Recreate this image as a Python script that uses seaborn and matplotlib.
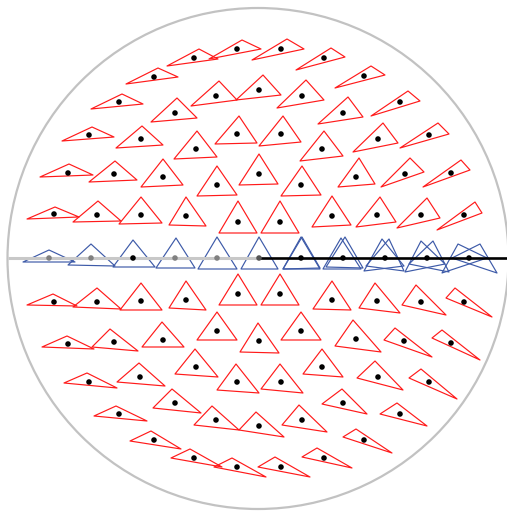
import matplotlib
matplotlib.use("Agg")
import matplotlib.pyplot as plt
from matplotlib.collections import PolyCollection
from matplotlib.patches import Circle
import seaborn as sns
import pandas as pd

sns.set_style("white")

# ---- data (image pixel coordinates, y downwards) ----
red_dots = [(194,58),(237,49),(281,49),(324,58),(154,77),(364,76),(119,102),(216,96),(259,90),(302,96),(400,102),(175,113),(343,113),
            (89,135),(141,139),(237,134),(281,134),(378,139),(429,135),(196,149),(322,149),
            (68,173),(114,174),(163,177),(259,174),(217,185),(301,185),(356,177),(405,174),(451,173),
            (54,214),(97,215),(141,215),(186,216),(238,222),(280,222),(332,216),(377,215),(421,215),(464,215),
            (54,302),(97,302),(141,301),(186,300),(238,294),(280,294),(332,300),(377,301),(421,302),(464,302),
            (68,344),(114,342),(163,340),(217,331),(259,341),(301,331),(356,339),(404,341),(451,343),
            (89,382),(140,377),(196,367),(237,382),(281,382),(322,367),(378,377),(429,382),
            (119,414),(175,403),(216,420),(259,426),(302,420),(343,403),(400,414),
            (154,440),(364,440),
            (194,458),(237,467),(281,467),(324,458)]

red_left = [(167,66),(209,59),(252,60),(296,70),(126,84),(335,88),(91,109),(191,106),(236,100),(277,108),(371,116),(151,122),(318,124),
            (62,141),(116,148),(215,144),(259,146),(353,152),(400,148),(174,159),(300,161),
            (40,177),(89,182),(141,187),(239,185),(197,196),(281,196),(338,187),(381,187),(423,187),
            (27,219),(73,222),(119,224),(169,225),(219,233),(261,233),(312,227),(356,227),(397,228),(437,230),
            (27,305),(73,307),(120,310),(169,308),(219,305),(261,305),(313,309),(359,308),(402,305),(446,298),
            (42,347),(92,347),(142,347),(197,340),(240,352),(281,340),(335,346),(384,340),(432,338),
            (64,383),(117,382),(175,374),(217,390),(261,389),(303,374),(357,378),(409,378),
            (94,416),(153,408),(194,425),(239,430),(282,425),(322,404),(380,414),
            (130,441),(343,437),
            (171,458),(214,467),(258,467),(302,457)]

red_apex = [(199,49),(242,40),(287,39),(331,48),(158,68),(371,66),(122,94),(219,81),(263,75),(306,80),(408,91),(177,98),(348,97),
            (92,127),(142,126),(239,116),(283,116),(383,123),(438,123),(197,131),(324,131),
            (69,164),(115,161),(163,159),(259,154),(217,166),(302,166),(359,158),(410,158),(461,160),
            (55,207),(98,201),(141,197),(186,197),(238,201),(280,201),(332,196),(380,197),(427,198),(475,202),
            (53,294),(97,288),(141,283),(186,281),(238,274),(280,274),(332,281),(375,283),(416,285),(455,288),
            (67,336),(110,329),(162,322),(217,312),(258,323),(301,312),(353,320),(395,328),(442,330),
            (87,373),(139,363),(195,349),(236,364),(280,364),(322,349),(375,361),(421,369),
            (116,406),(172,389),(212,406),(256,412),(299,405),(342,389),(397,403),
            (151,431),(356,429),
            (190,449),(232,458),(275,457),(317,448)]

red_right = [(218,59),(261,49),(304,49),(345,57),(178,77),(385,75),(143,104),(237,100),(281,95),(324,100),(420,101),(197,118),(363,117),
             (114,137),(163,145),(257,143),(301,142),(398,143),(449,134),(217,157),(343,156),
             (93,175),(137,180),(183,185),(278,184),(237,195),(321,195),(375,184),(424,172),(470,170),
             (79,217),(121,221),(162,223),(206,226),(257,233),(299,233),(351,225),(396,222),(440,218),(482,213),
             (77,306),(121,309),(162,310),(206,310),(257,305),(299,305),(351,310),(400,313),(446,315),(492,317),
             (94,349),(138,351),(184,347),(237,340),(279,353),(321,340),(381,352),(432,357),(480,360),
             (117,388),(165,386),(218,377),(259,393),(303,393),(343,377),(403,390),(457,399),
             (147,421),(201,413),(239,430),(284,437),(327,432),(367,414),(427,426),
             (181,449),(392,453),
             (222,467),(266,477),(310,477),(352,468)]

axis_dots = [(49,258),(91,258),(133,258),(175,258),(217,258),(259,258),(301,258),(343,258),(385,258),(427,258),(469,258)]
axis_dot_shade = ["gray","gray","black","gray","gray","dark","black","black","black","black","black"]

blue_left = [(23,262),(68,265),(113,267),(156,268),(198,269),(241,269),(283,269),(323,269),(364,271),(405,272),(442,273),
             (283,269),(326,267),(366,266),(409,264),(452,258)]
blue_apex = [(49,250),(91,244),(133,240),(176,238),(217,237),(259,237),(301,237),(341,238),(382,239),(421,241),(458,244),
             (302,237),(345,237),(389,239),(433,241),(480,244)]
blue_right = [(75,262),(115,266),(155,267),(195,268),(237,269),(278,269),(320,269),(361,269),(404,266),(445,264),(487,258),
              (320,268),(363,268),(404,271),(449,272),(497,273)]

disk_center = (258, 258.5)
disk_radius = 250.5
cut_left = [(8, 258), (259, 258)]
cut_right = [(259, 258), (507, 258)]

# ---- figure ----
fig = plt.figure(figsize=(5.07, 5.12), dpi=100)
ax = fig.add_axes([0, 0, 1, 1])

ax.add_patch(Circle(disk_center, disk_radius, fill=False, edgecolor="#c2c2c2", lw=1.6, zorder=1))

red_polys = [[l, a, r] for l, a, r in zip(red_left, red_apex, red_right)]
ax.add_collection(PolyCollection(red_polys, facecolors="none", edgecolors="#ff1a1a", linewidths=0.85, zorder=2))

blue_polys = [[l, a, r] for l, a, r in zip(blue_left, blue_apex, blue_right)]
ax.add_collection(PolyCollection(blue_polys, facecolors="none", edgecolors="#3d5aa8", linewidths=0.85, zorder=2))

ax.plot([p[0] for p in cut_left], [p[1] for p in cut_left], color="#c8c8c8", lw=2.2, zorder=3, solid_capstyle="butt")
ax.plot([p[0] for p in cut_right], [p[1] for p in cut_right], color="black", lw=1.9, zorder=3, solid_capstyle="butt")

dots = pd.DataFrame({
    "x": [p[0] for p in red_dots] + [p[0] for p in axis_dots],
    "y": [p[1] for p in red_dots] + [p[1] for p in axis_dots],
    "shade": ["black"] * len(red_dots) + axis_dot_shade,
})
sns.scatterplot(data=dots, x="x", y="y", hue="shade",
                palette={"black": "black", "gray": "#808080", "dark": "#555555"},
                s=16, linewidth=0, legend=False, ax=ax, zorder=4)
ax.set_xlim(0, 507)
ax.set_ylim(512, 0)
ax.axis("off")

fig.savefig("out.png", dpi=100)
